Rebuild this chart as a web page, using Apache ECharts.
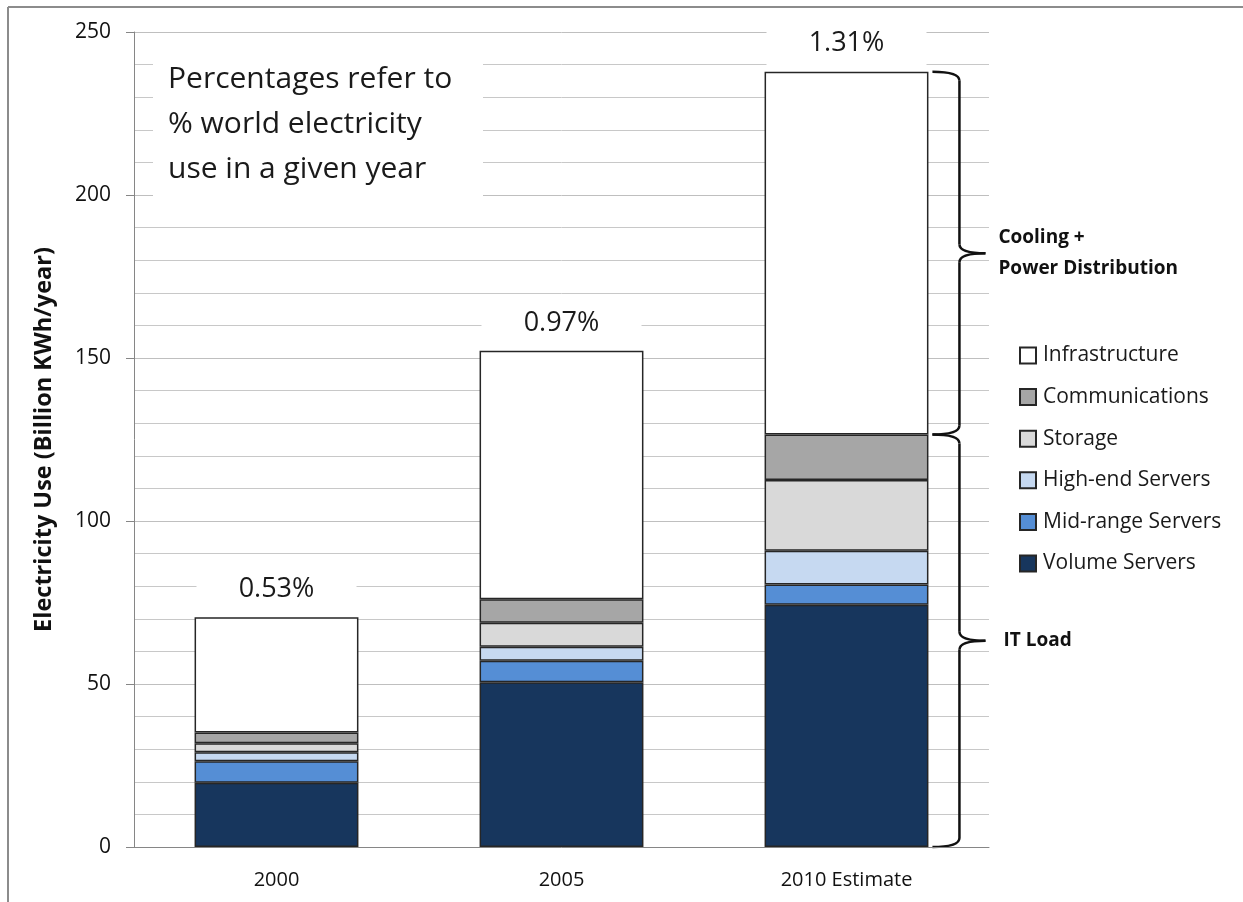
<!DOCTYPE html>
<html>
<head>
<meta charset="utf-8">
<script src="https://cdn.jsdelivr.net/npm/echarts@6/dist/echarts.min.js"></script>
<style>
  html, body { margin: 0; padding: 0; background: #fff; }
  #chart { width: 1243px; height: 902px; }
</style>
</head>
<body>
<div id="chart"></div>
<script>
// Data centre electricity use by component (billion kWh / year)
const years = ['2000', '2005', '2010 Estimate'];
const volumeServers   = [19.7, 50.5, 74.3];
const midRangeServers = [6.6, 6.6, 6.2];
const highEndServers  = [2.8, 4.3, 10.4];
const storage         = [2.7, 7.4, 21.7];
const communications  = [3.3, 7.2, 13.9];
const infrastructure  = [35.4, 76.2, 111.3];
// Share of world electricity use in each year
const worldShare = ['0.53%', '0.97%', '1.31%'];
const yTicks = [0, 50, 100, 150, 200, 250];

const FONT = '"Open Sans", Lato, sans-serif';
const chart = echarts.init(document.getElementById('chart'));

const segments = [
  { name: 'Volume Servers', data: volumeServers, color: '#17365D' },
  { name: 'Mid-range Servers', data: midRangeServers, color: '#558ED5' },
  { name: 'High-end Servers', data: highEndServers, color: '#C6D9F1' },
  { name: 'Storage', data: storage, color: '#D9D9D9' },
  { name: 'Communications', data: communications, color: '#A6A6A6' },
  { name: 'Infrastructure', data: infrastructure, color: '#FFFFFF' }
];

const series = segments.map((s, i) => {
  const last = i === segments.length - 1;
  return {
    name: s.name,
    type: 'bar',
    stack: 'total',
    barWidth: '57.5%',
    data: s.data,
    itemStyle: { color: s.color, borderColor: '#262626', borderWidth: 1.5 },
    emphasis: { disabled: true },
    label: last ? {
      show: true,
      position: 'top',
      distance: 1,
      formatter: p => worldShare[p.dataIndex],
      fontFamily: FONT,
      fontSize: 27,
      color: '#1a1a1a',
      backgroundColor: '#ffffff',
      width: 160,
      height: 30,
      lineHeight: 30,
      align: 'center',
      padding: [12, 0, 12, 0]
    } : { show: false }
  };
});

chart.setOption({
  animation: false,
  backgroundColor: '#ffffff',
  textStyle: { fontFamily: FONT },
  grid: { left: 134, right: 254, top: 32, bottom: 55, containLabel: false },
  legend: {
    orient: 'vertical',
    left: 1019,
    top: 345,
    padding: 0,
    itemWidth: 16,
    itemHeight: 16,
    itemGap: 20.6,
    icon: 'rect',
    selectedMode: false,
    data: segments.map(s => s.name).reverse(),
    textStyle: { fontFamily: FONT, fontSize: 21, lineHeight: 20, color: '#1a1a1a', padding: [0, 0, 0, 2] }
  },
  xAxis: {
    type: 'category',
    data: years,
    axisLine: { lineStyle: { color: '#868686', width: 1 } },
    axisTick: { show: false },
    axisLabel: { fontFamily: FONT, fontSize: 20, color: '#111', margin: 23 }
  },
  yAxis: {
    type: 'value',
    min: yTicks[0],
    max: yTicks[yTicks.length - 1],
    interval: 50,
    name: 'Electricity Use (Billion KWh/year)',
    nameLocation: 'middle',
    nameRotate: 90,
    nameGap: 78,
    nameTextStyle: { fontFamily: FONT, fontSize: 23.5, fontWeight: 'bold', color: '#111' },
    axisLine: { show: true, lineStyle: { color: '#868686', width: 1 } },
    axisTick: { show: true, length: 8, lineStyle: { color: '#868686' } },
    axisLabel: { fontFamily: FONT, fontSize: 21, color: '#111', margin: 23 },
    splitLine: { show: true, lineStyle: { color: '#BFBFBF', width: 1 } },
    minorTick: { show: false, splitNumber: 5 },
    minorSplitLine: { show: true, lineStyle: { color: '#C8C8C8', width: 1 } }
  },
  series: series
});

// Annotation box, braces and frame positioned from the axis scales
function drawOverlays() {
  const toPx = (cat, val) => chart.convertToPixel({ xAxisIndex: 0, yAxisIndex: 0 }, [cat, val]);
  const last = years.length - 1;
  const catW = toPx(1, 0)[0] - toPx(0, 0)[0];
  const barRight = toPx(last, 0)[0] + catW * 0.575 / 2;

  const itLoad = volumeServers[last] + midRangeServers[last] + highEndServers[last] +
                 storage[last] + communications[last];
  const total = itLoad + infrastructure[last];
  const yTop = toPx(last, total)[1];
  const yMid = toPx(last, itLoad)[1];
  const yBot = toPx(last, 0)[1];

  const x0 = barRight + 4, xm = x0 + 27, xt = x0 + 53, r = 9;
  const braceStyle = { stroke: '#111', lineWidth: 2.5, fill: null };

  // one curly brace built from quadratic curves and straight runs
  function brace(y1, y2) {
    const yc = (y1 + y2) / 2;
    const q = (xa, ya, cx, cy, xb, yb) => ({
      type: 'bezierCurve', silent: true, style: braceStyle,
      shape: { x1: xa, y1: ya, cpx1: cx, cpy1: cy, x2: xb, y2: yb }
    });
    const l = (xa, ya, xb, yb) => ({
      type: 'line', silent: true, style: braceStyle,
      shape: { x1: xa, y1: ya, x2: xb, y2: yb }
    });
    return [
      q(x0, y1, xm, y1, xm, y1 + r),
      l(xm, y1 + r, xm, yc - r),
      q(xm, yc - r, xm, yc, xt, yc),
      q(xt, yc, xm, yc, xm, yc + r),
      l(xm, yc + r, xm, y2 - r),
      q(xm, y2 - r, xm, y2, x0, y2)
    ];
  }
  const yC1 = (yTop + yMid) / 2, yC2 = (yMid + yBot) / 2;

  const boxTop = toPx(0, 248)[1], boxBot = toPx(0, 195)[1];

  const elements = [
    // frame
    { type: 'line', shape: { x1: 8, y1: 7, x2: 1243, y2: 7 }, style: { stroke: '#8C8C8C', lineWidth: 2 }, silent: true },
    { type: 'line', shape: { x1: 8, y1: 7, x2: 8, y2: 902 }, style: { stroke: '#8C8C8C', lineWidth: 2 }, silent: true },
    // note box
    { type: 'rect', shape: { x: 153, y: boxTop, width: 330, height: boxBot - boxTop + 3 }, style: { fill: '#ffffff' }, z: 1, silent: true },
    {
      type: 'text', x: 168, y: 57, z: 2, silent: true,
      style: {
        text: 'Percentages refer to\n% world electricity\nuse in a given year',
        font: '30px ' + FONT, fill: '#1a1a1a', lineHeight: 45, verticalAlign: 'top'
      }
    },
    {
      type: 'text', x: xt + 13, y: yC1, silent: true,
      style: {
        text: 'Cooling +\nPower Distribution', font: 'bold 19px ' + FONT, fill: '#111',
        lineHeight: 31, verticalAlign: 'middle'
      }
    },
    {
      type: 'text', x: xt + 18, y: yC2, silent: true,
      style: { text: 'IT Load', font: 'bold 19px ' + FONT, fill: '#111', verticalAlign: 'middle' }
    }
  ].concat(brace(yTop, yMid), brace(yMid, yBot));

  chart.setOption({ graphic: elements });
}
drawOverlays();
</script>
</body>
</html>
